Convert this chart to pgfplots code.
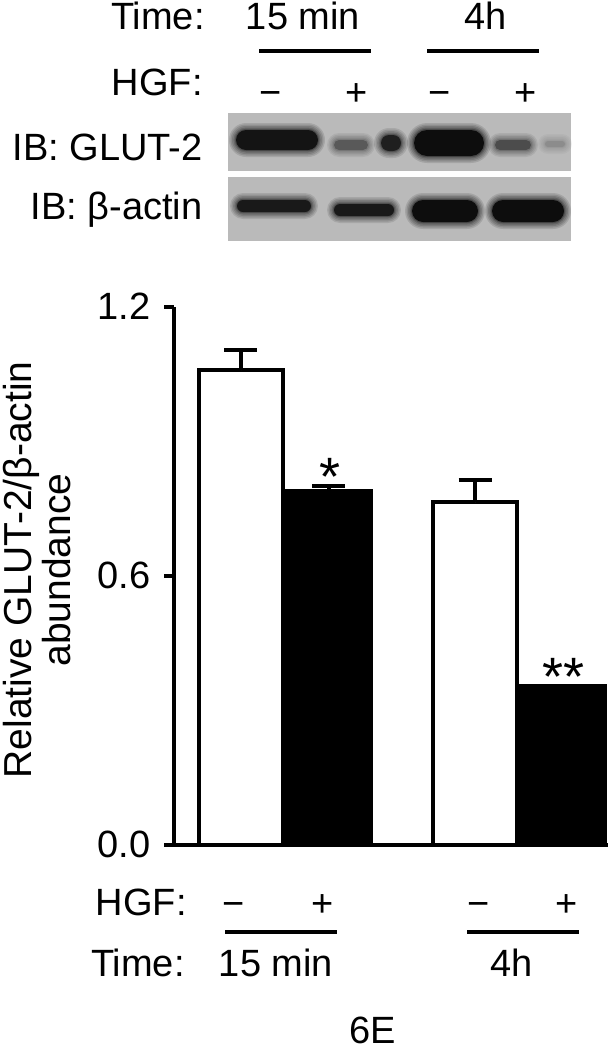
\documentclass[border=0pt]{standalone}
\usepackage{fontspec}
\setmainfont{Liberation Sans}
\usepackage{pgfplots}
\pgfplotsset{compat=1.18}
\definecolor{blotbg}{RGB}{186,186,186}
\newcommand\f{\fontsize{19}{22}\selectfont}
\newcommand\band[5]{%
  \foreach \e/\o in {7/0.12,5.5/0.14,4/0.16,2.5/0.2,1.2/0.3}{%
    \fill[black!#5, opacity=\o, rounded corners={(#4+\e)*0.5pt}] ({#1-#3-\e},{#2-#4-\e}) rectangle ({#1+#3+\e},{#2+#4+\e});}
  \fill[black!#5, rounded corners={#4*0.5pt}] ({#1-#3},{#2-#4}) rectangle ({#1+#3},{#2+#4});}
\tikzset{lbl/.style={inner sep=0pt, font=\f, text height=13.6pt, text depth=0pt}}
\begin{document}
\begin{tikzpicture}
\begin{scope}[x=0.5pt,y=-0.5pt]
\path (0,0) rectangle (608,1050);
% top labels
\node[lbl, anchor=east] at (205,16) {Time:};
\node[lbl] at (303,16) {15 min};
\node[lbl] at (486,16) {4h};
\draw[line width=2pt] (259,51) -- (371,51);
\draw[line width=2pt] (427,51) -- (539,51);
\node[lbl, anchor=east] at (203,82) {HGF:};
\node[lbl] at (271,92) {−};
\node[lbl] at (357,92) {+};
\node[lbl] at (440,92) {−};
\node[lbl] at (526,92) {+};
\node[lbl, anchor=east] at (203,147) {IB: GLUT-2};
\node[lbl, anchor=east] at (203,206) {IB: β-actin};
% blots
\fill[blotbg] (228,113) rectangle (571,171);
\fill[blotbg] (228,177) rectangle (571,241);
\band{277}{140}{41}{10}{92}
\band{351}{145}{17}{5}{65}
\band{391}{143}{10}{8}{88}
\band{449}{143}{35}{13}{95}
\band{513}{145}{18}{5}{70}
\band{555}{144}{10}{3}{45}
\band{274}{206}{37}{6}{90}
\band{364}{210}{30}{6}{90}
\band{445}{211}{33}{11}{95}
\band{528}{211}{36}{11}{95}
% y label
\node[rotate=90, align=center, inner sep=0pt, font=\fontsize{19.5}{19.5}\selectfont] at (37,570) {Relative GLUT-2/β-actin\\abundance};
% significance
\node[anchor=north, inner sep=0pt, font=\fontsize{27}{27}\selectfont] at (330,458) {*};
\node[anchor=north, inner sep=0pt, font=\fontsize{27}{27}\selectfont] at (564,658) {**};
% bottom labels
\node[lbl, anchor=east] at (187,902) {HGF:};
\node[lbl] at (234,903) {−};
\node[lbl] at (323,903) {+};
\node[lbl] at (479,903) {−};
\node[lbl] at (567,903) {+};
\draw[line width=2pt] (225,932) -- (337,932);
\draw[line width=2pt] (467,932) -- (579,932);
\node[lbl, anchor=east] at (185,963) {Time:};
\node[lbl] at (276,963) {15 min};
\node[lbl] at (512,963) {4h};
\node[lbl] at (373,1030) {6E};
\end{scope}
\begin{axis}[
  at={(87.25pt,-422.25pt)}, anchor=south west,
  scale only axis, width=216.75pt, height=269pt,
  xmin=174.5, xmax=608, ymin=0, ymax=1.2,
  axis lines=left, axis line style={-, line width=2pt},
  xtick=\empty, ytick={0,0.6,1.2}, yticklabels={0.0,0.6,1.2},
  tick align=outside, major tick length=5pt,
  every tick/.style={black, line width=2pt},
  tick label style={font=\f},
  yticklabel style={xshift=-3.5pt},
  clip=false,
]
\addplot[ybar, bar shift=0pt, bar width=84, fill=white, draw=black, line width=2pt,
  error bars/.cd, y dir=plus, y explicit,
  error bar style={line width=2pt},
  error mark options={rotate=90, line width=2pt, mark size=8.25pt}]
  coordinates {(241,1.058) +- (0,0.045) (475,0.763) +- (0,0.049)};
\addplot[ybar, bar shift=0pt, bar width=84, fill=black, draw=black, line width=2pt,
  error bars/.cd, y dir=plus, y explicit,
  error bar style={line width=2pt},
  error mark options={rotate=90, line width=2pt, mark size=8.25pt}]
  coordinates {(328.5,0.789) +- (0,0.011) (562.5,0.354) +- (0,0)};
\end{axis}
\end{tikzpicture}
\end{document}
